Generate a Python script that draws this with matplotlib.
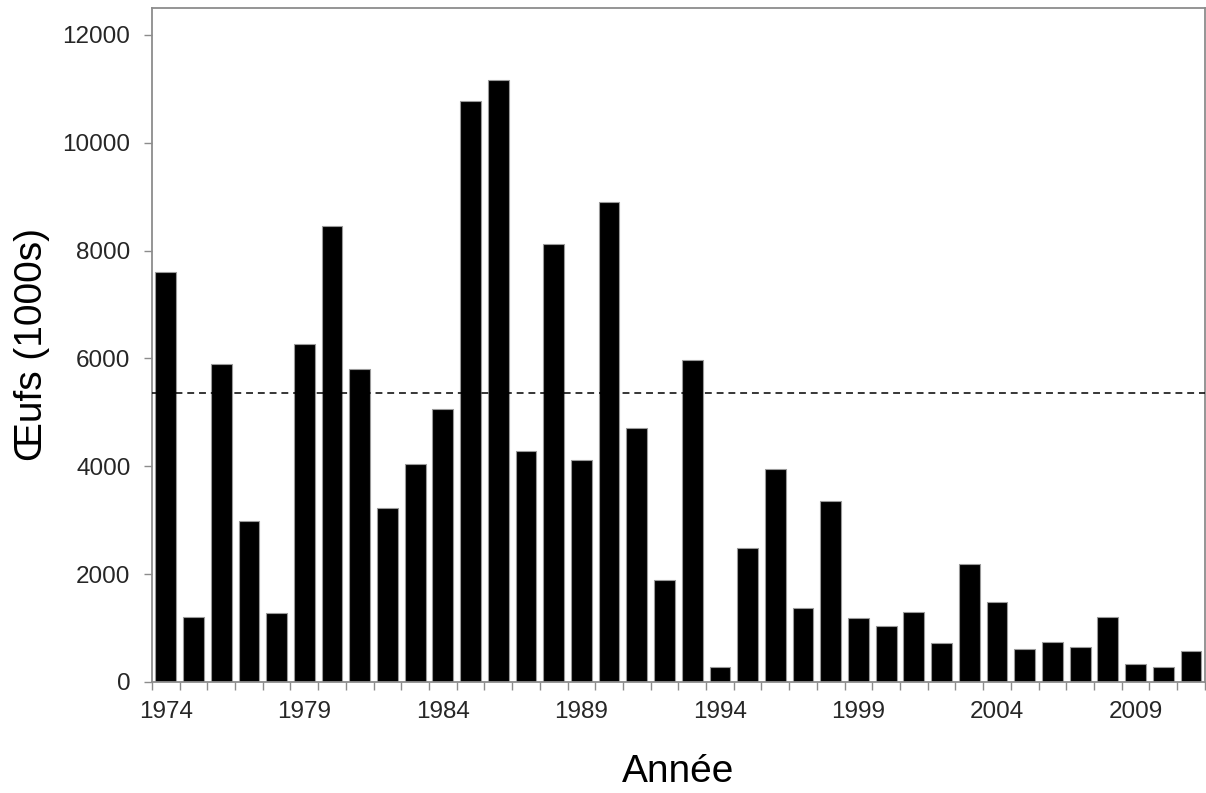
import matplotlib
matplotlib.use('Agg')
import matplotlib.pyplot as plt
import numpy as np

plt.rcParams['font.family'] = ['Liberation Sans', 'DejaVu Sans']

# Oeufs (milliers) par annee
years = list(range(1974, 2012))
eggs = [7600, 1210, 5890, 2980, 1275, 6270, 8450, 5810, 3220, 4040,
        5070, 10770, 11170, 4280, 8130, 4120, 8910, 4710, 1890, 5970,
        280, 2480, 3950, 1375, 3350, 1195, 1035, 1290, 730, 2195,
        1480, 615, 740, 640, 1210, 330, 275, 580]
mean_line = 5360
label_years = [1974, 1979, 1984, 1989, 1994, 1999, 2004, 2009]

SPINE = '#8c8c8c'
TEXT = '#262626'

fig = plt.figure(figsize=(12.06, 7.93), dpi=100)
ax = fig.add_axes([0.126, 0.14, 0.873, 0.85])

x = np.arange(len(years))
ax.bar(x, eggs, width=0.75, color='black', edgecolor='#9a9a9a', linewidth=0.8, zorder=2)
ax.axhline(mean_line, color='black', linestyle=(0, (4.5, 3.2)), linewidth=1.1, zorder=3)

ax.set_xlim(-0.5, len(years) - 0.5)
ax.set_ylim(0, 12500)
ax.set_yticks(range(0, 12001, 2000))

# labels centred on bars, tick marks at bar boundaries
ax.set_xticks([years.index(y) for y in label_years])
ax.set_xticklabels([str(y) for y in label_years])
ax.set_xticks(np.arange(-0.5, len(years), 1.0), minor=True)
ax.tick_params(axis='x', which='major', length=0, pad=14, labelsize=17.5, labelcolor=TEXT)
ax.tick_params(axis='x', which='minor', length=5.5, width=1, color=SPINE, direction='out')
ax.tick_params(axis='y', length=5.5, width=1, color=SPINE, pad=10, labelsize=17.5, labelcolor=TEXT)

for s in ax.spines.values():
    s.set_color(SPINE)
    s.set_linewidth(1.3)

ax.set_xlabel('Année', fontsize=28, color='black', labelpad=22)
ax.set_ylabel('Œufs (1000s)', fontsize=28, color='black', labelpad=9)

fig.savefig('out.png', dpi=100)
